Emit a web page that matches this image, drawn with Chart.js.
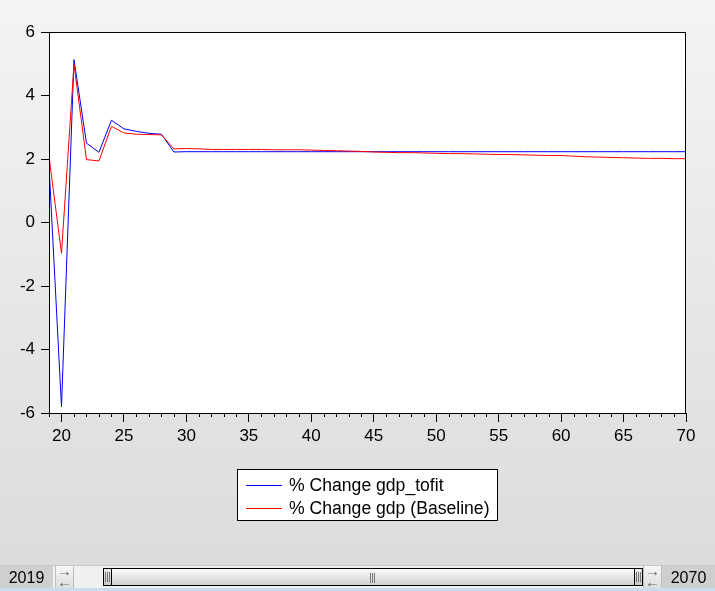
<!DOCTYPE html>
<html>
<head>
<meta charset="utf-8">
<script src="https://cdn.jsdelivr.net/npm/chart.js@4.4.0/dist/chart.umd.min.js"></script>
<style>
  html, body { margin:0; padding:0; }
  body { width:715px; height:591px; overflow:hidden; position:relative;
         background: linear-gradient(to bottom, #f4f4f4 0px, #dcdcdc 565px); font-family: "Liberation Sans", Arial, sans-serif; }
  #wrap { position:absolute; left:0; top:0; width:715px; height:565px; }
  #bar { position:absolute; left:0; top:565px; width:715px; height:23px; background:#f0f0f0; border-top:1px solid #c8c8c8; box-sizing:border-box; }
  #strip { position:absolute; left:0; top:588px; width:715px; height:3px; background:#c9dcf0; }
  .lab { position:absolute; top:0; height:22px; width:53px; background:#cfcfcf; font-size:16px; line-height:23px; text-align:center; color:#000; }
  .arr { position:absolute; top:0; width:19px; height:22px; background:linear-gradient(#f6f6f6,#dedede); border-left:1px solid #bdbdbd; border-right:1px solid #bdbdbd; box-sizing:border-box; font-size:15px; color:#666; line-height:10px; text-align:center; }
  .arr div { height:11px; }
  #thumb { position:absolute; left:103px; top:2px; width:540px; height:18px; box-sizing:border-box; border:1px solid #000; border-radius:2px;
           background:linear-gradient(#fafafa,#e2e2e2 60%,#d2d2d2); }
  .h { position:absolute; top:-1px; width:9px; height:18px; box-sizing:border-box; border:1px solid #000; background:linear-gradient(#ececec,#c8c8c8); }
  .g { position:absolute; top:3px; width:5px; height:10px; box-sizing:border-box; border-left:1px solid #777; border-right:1px solid #777;
       background:linear-gradient(to right, transparent 40%, #777 40%, #777 60%, transparent 60%); }
</style>
</head>
<body>
<div id="wrap"><canvas id="c" width="715" height="565"></canvas></div>
<div id="bar">
  <div class="lab" style="left:0">2019</div>
  <div class="arr" style="left:55px"><div>&#8594;</div><div>&#8592;</div></div>
  <div id="thumb">
    <div class="h" style="left:-1px"><div class="g" style="left:1px"></div></div>
    <div class="g" style="left:266px;top:4px"></div>
    <div class="h" style="right:-1px"><div class="g" style="left:1px"></div></div>
  </div>
  <div class="arr" style="left:643px"><div>&#8594;</div><div>&#8592;</div></div>
  <div class="lab" style="left:662px">2070</div>
</div>
<div id="strip"></div>
<script>
const years = [];
for (let y = 2019; y <= 2070; y++) years.push(y);

const gdpTofit = [1.80, -5.80, 5.13, 2.50, 2.21, 3.22, 2.95, 2.87, 2.81, 2.78, 2.22,
  2.23, 2.23, 2.23, 2.23, 2.23, 2.23, 2.23, 2.23, 2.23, 2.23,
  2.23, 2.23, 2.23, 2.23, 2.23, 2.23, 2.23, 2.23, 2.23, 2.23,
  2.23, 2.23, 2.23, 2.23, 2.23, 2.23, 2.23, 2.23, 2.23, 2.23,
  2.23, 2.23, 2.23, 2.23, 2.23, 2.23, 2.23, 2.23, 2.23, 2.23, 2.23];

const gdpBaseline = [2.08, -0.97, 4.98, 1.98, 1.94, 3.03, 2.82, 2.78, 2.77, 2.76, 2.32,
  2.33, 2.32, 2.30, 2.30, 2.30, 2.30, 2.30, 2.29, 2.29, 2.29,
  2.28, 2.27, 2.26, 2.25, 2.24, 2.22, 2.21, 2.20, 2.20, 2.19,
  2.18, 2.17, 2.17, 2.16, 2.15, 2.14, 2.14, 2.13, 2.12, 2.11,
  2.11, 2.09, 2.07, 2.06, 2.05, 2.04, 2.03, 2.02, 2.02, 2.01, 2.01];

const yTicks = [-6, -4, -2, 0, 2, 4, 6];
const seriesLabels = ['% Change gdp_tofit', '% Change gdp (Baseline)'];
const seriesColors = ['#0000ff', '#ff0000'];

const toPts = arr => arr.map((v, i) => ({ x: years[i], y: v }));

const FAMILY = '"Liberation Sans", Arial, sans-serif';
const TICKFONT = { family: FAMILY, size: 17 };

const framePlugin = {
  id: 'frame',
  beforeDraw(chart) {
    const { ctx, chartArea: a } = chart;
    ctx.save();
    ctx.fillStyle = '#ffffff';
    ctx.fillRect(a.left, a.top, a.right - a.left, a.bottom - a.top);
    ctx.restore();
  },
  afterDraw(chart) {
    const { ctx, chartArea: a } = chart;
    const xs = chart.scales.x;
    ctx.save();
    ctx.strokeStyle = '#000';
    ctx.lineWidth = 1;
    ctx.strokeRect(a.left + 0.5, a.top + 0.5, a.right - a.left - 1, a.bottom - a.top);
    ctx.beginPath();
    for (const yr of years) {
      if (yr % 5 === 0) continue;
      const px = Math.round(xs.getPixelForValue(yr)) + 0.5;
      ctx.moveTo(px, a.bottom);
      ctx.lineTo(px, a.bottom + 4);
    }
    ctx.stroke();
    const bx = 237, by = 469, bw = 261, bh = 52;
    ctx.fillStyle = '#ffffff';
    ctx.fillRect(bx, by, bw, bh);
    ctx.strokeRect(bx + 0.5, by + 0.5, bw - 1, bh - 1);
    ctx.font = '17.6px ' + FAMILY;
    ctx.textBaseline = 'middle';
    ctx.fillStyle = '#000';
    seriesLabels.forEach((lab, i) => {
      const ly = by + 16 + i * 23;
      ctx.strokeStyle = seriesColors[i];
      ctx.beginPath();
      ctx.moveTo(246, ly + 0.5);
      ctx.lineTo(282, ly + 0.5);
      ctx.stroke();
      ctx.fillText(lab, 289, ly + 1);
    });
    ctx.restore();
  }
};

new Chart(document.getElementById('c'), {
  type: 'line',
  data: {
    datasets: [
      { label: seriesLabels[0], data: toPts(gdpTofit), borderColor: seriesColors[0], borderWidth: 1, pointRadius: 0, tension: 0, order: 1 },
      { label: seriesLabels[1], data: toPts(gdpBaseline), borderColor: seriesColors[1], borderWidth: 1, pointRadius: 0, tension: 0, order: 0 }
    ]
  },
  options: {
    responsive: false,
    animation: false,
    layout: { padding: { left: 0, top: 32, right: 29, bottom: 122 } },
    plugins: { legend: { display: false }, tooltip: { enabled: false } },
    scales: {
      x: {
        type: 'linear', min: 2019, max: 2070,
        afterBuildTicks: s => { s.ticks = years.filter(y => y % 5 === 0).map(v => ({ value: v })); },
        afterFit: s => { s.height = 30; },
        ticks: { font: TICKFONT, color: '#000', padding: 4, maxRotation: 0, autoSkip: false,
                 callback: v => String(v % 100) },
        grid: { drawOnChartArea: false, drawTicks: true, tickLength: 9, color: '#000', tickColor: '#000' },
        border: { display: true, color: '#000' }
      },
      y: {
        min: -6, max: 6,
        afterBuildTicks: s => { s.ticks = yTicks.map(v => ({ value: v })); },
        afterFit: s => { s.width = 49; },
        ticks: { font: TICKFONT, color: '#000', padding: 6 },
        grid: { drawOnChartArea: false, drawTicks: true, tickLength: 8, color: '#000', tickColor: '#000' },
        border: { display: true, color: '#000' }
      }
    }
  },
  plugins: [framePlugin]
});
</script>
</body>
</html>
